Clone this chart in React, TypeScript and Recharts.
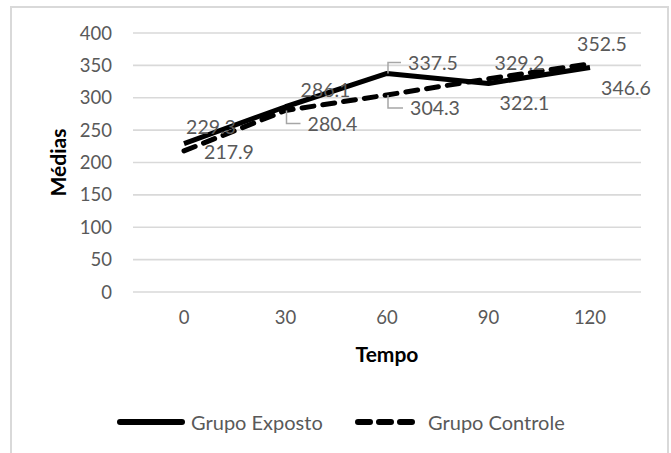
import React from 'react';
import { LineChart, Line, XAxis, YAxis, CartesianGrid } from 'recharts';

// Tempo (min) on the category axis
const categories = ['0', '30', '60', '90', '120'];
// Mean values per group
const grupoExposto = [229.3, 286.1, 337.5, 322.1, 346.6];
const grupoControle = [217.9, 280.4, 304.3, 329.2, 352.5];
// Value axis ticks
const yTicks = [0, 50, 100, 150, 200, 250, 300, 350, 400];

const data = categories.map((tempo, i) => ({
  tempo,
  exposto: grupoExposto[i],
  controle: grupoControle[i],
}));

const FONT = 'Lato, "Noto Sans", sans-serif';
const GRAY_TEXT = '#595959';
const LEADER = '#a6a6a6';
const TICK_SIZE = 18.5;
const LABEL_SIZE = 19.5;
const TITLE_SIZE = 21;

// Label placement relative to each point: text centre offset and leader style
type LabelPlace = { dx: number; dy: number; leader?: 'up' | 'down' };
const expostoPlace: LabelPlace[] = [
  { dx: 27, dy: -17 },
  { dx: 40, dy: -17 },
  { dx: 46, dy: -11, leader: 'up' },
  { dx: 36, dy: 19 },
  { dx: 36, dy: 20 },
];
const controlePlace: LabelPlace[] = [
  { dx: 45, dy: 1 },
  { dx: 47, dy: 13, leader: 'down' },
  { dx: 48, dy: 13, leader: 'down' },
  { dx: 31, dy: -16 },
  { dx: 12, dy: -20 },
];

const makeLabel = (places: LabelPlace[]) => (props: any) => {
  const { x, y, value, index } = props;
  if (x == null || y == null) return null;
  const p = places[index] || { dx: 0, dy: -12 };
  const cx = x + p.dx;
  const cy = y + p.dy;
  let leader: React.ReactNode = null;
  if (p.leader) {
    const lx = cx - 26; // left end of the label text
    leader = (
      <path
        d={`M${x + 1},${y} L${x + 1},${cy} L${lx - 6},${cy}`}
        fill="none"
        stroke={LEADER}
        strokeWidth={1.5}
      />
    );
  }
  return (
    <g key={`lbl-${index}`}>
      {leader}
      <text
        x={cx}
        y={cy}
        textAnchor="middle"
        dominantBaseline="central"
        fill={GRAY_TEXT}
        fontSize={LABEL_SIZE}
        fontFamily={FONT}
      >
        {value}
      </text>
    </g>
  );
};

const LegendSwatch = ({ dashed }: { dashed?: boolean }) => (
  <svg width={68} height={10} style={{ display: 'block' }}>
    <line
      x1={3}
      y1={5}
      x2={65}
      y2={5}
      stroke="#000"
      strokeWidth={6}
      strokeLinecap="round"
      strokeDasharray={dashed ? '12 9' : undefined}
    />
  </svg>
);

export default function App() {
  return (
    <div
      style={{
        position: 'absolute',
        left: 0,
        top: 0,
        width: 671,
        height: 453,
        overflow: 'hidden',
        background: '#fff',
        fontFamily: FONT,
      }}
    >
      <div
        style={{
          position: 'absolute',
          left: 10,
          top: 6,
          width: 655,
          height: 460,
          borderLeft: '2px solid #d9d9d9',
          borderTop: '2px solid #d9d9d9',
          borderRight: '2px solid #d9d9d9',
        }}
      />
      <LineChart
        width={671}
        height={453}
        data={data}
        margin={{ top: 33, right: 30, bottom: 131, left: 73 }}
        style={{ position: 'absolute', left: 0, top: 0 }}
      >
        <CartesianGrid vertical={false} stroke="#d9d9d9" strokeWidth={1.6} />
        <XAxis
          dataKey="tempo"
          padding={{ left: 51, right: 51 }}
          axisLine={false}
          tickLine={false}
          tickSize={0}
          tickMargin={19}
          height={30}
          tick={{ fill: GRAY_TEXT, fontSize: TICK_SIZE, fontFamily: FONT }}
          label={{
            value: 'Tempo',
            position: 'bottom',
            offset: 25,
            fill: '#000',
            fontSize: TITLE_SIZE,
            fontWeight: 700,
            fontFamily: FONT,
          }}
        />
        <YAxis
          domain={[0, 400]}
          ticks={yTicks}
          axisLine={false}
          tickLine={false}
          tickSize={0}
          tickMargin={21}
          width={60}
          tick={{ fill: GRAY_TEXT, fontSize: TICK_SIZE, fontFamily: FONT }}
          label={{
            content: (props: any) => {
              const vb = props.viewBox || { x: 73, y: 33, width: 60, height: 259 };
              const cx = vb.x - 16;
              const cy = vb.y + vb.height / 2;
              return (
                <text
                  x={cx}
                  y={cy}
                  transform={`rotate(-90 ${cx} ${cy})`}
                  textAnchor="middle"
                  dominantBaseline="central"
                  fontSize={TITLE_SIZE}
                  fontWeight={700}
                  fontFamily={FONT}
                  fill="#000"
                >
                  Médias
                </text>
              );
            },
          }}
        />
        <Line
          type="linear"
          dataKey="controle"
          stroke="#000"
          strokeWidth={5}
          strokeDasharray="12 9"
          strokeLinecap="round"
          strokeLinejoin="round"
          dot={false}
          activeDot={false}
          isAnimationActive={false}
          label={makeLabel(controlePlace)}
        />
        <Line
          type="linear"
          dataKey="exposto"
          stroke="#000"
          strokeWidth={5}
          strokeLinejoin="round"
          dot={false}
          activeDot={false}
          isAnimationActive={false}
          label={makeLabel(expostoPlace)}
        />
      </LineChart>
      <div
        style={{
          position: 'absolute',
          top: 409,
          left: 0,
          width: 671,
          color: GRAY_TEXT,
          fontSize: 20,
          lineHeight: '26px',
        }}
      >
        <div style={{ position: 'absolute', left: 117, top: 8 }}>
          <LegendSwatch />
        </div>
        <span style={{ position: 'absolute', left: 191, top: 0 }}>Grupo Exposto</span>
        <div style={{ position: 'absolute', left: 355, top: 8 }}>
          <LegendSwatch dashed />
        </div>
        <span style={{ position: 'absolute', left: 428, top: 0 }}>Grupo Controle</span>
      </div>
    </div>
  );
}
